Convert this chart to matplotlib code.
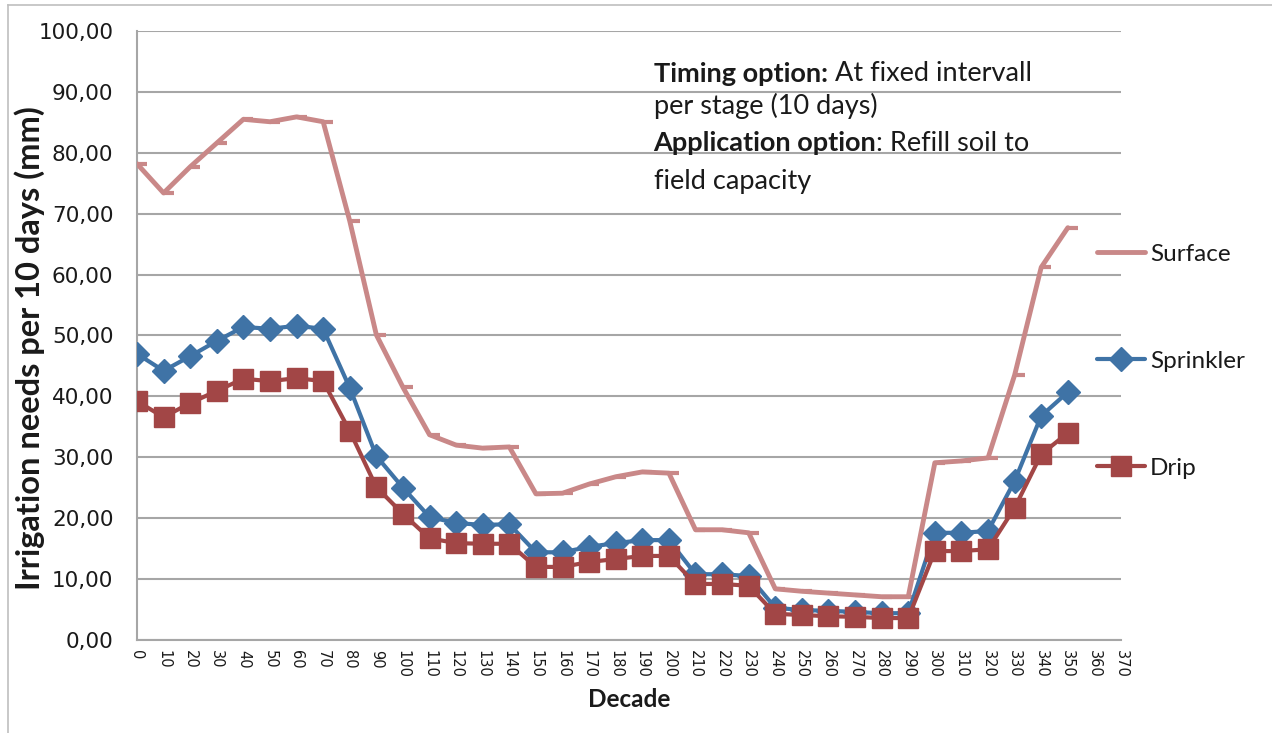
import numpy as np
import matplotlib
matplotlib.use("Agg")
import matplotlib.pyplot as plt
from matplotlib.lines import Line2D
from matplotlib.path import Path
from matplotlib.ticker import FuncFormatter, MultipleLocator


decades = list(range(0, 360, 10))

surface = [78.2, 73.4, 77.7, 81.6, 85.5, 85.1, 85.9, 85.1, 68.8, 50.1,
           41.5, 33.7, 32.0, 31.5, 31.7, 24.0, 24.1, 25.6, 26.8, 27.6,
           27.4, 18.1, 18.1, 17.6, 8.4, 8.0, 7.7, 7.4, 7.1, 7.1,
           29.1, 29.4, 29.9, 43.5, 61.2, 67.7]

sprinkler = [47.0, 44.2, 46.6, 49.1, 51.4, 51.1, 51.6, 51.1, 41.4, 30.2,
             25.0, 20.2, 19.2, 18.9, 19.0, 14.4, 14.4, 15.3, 15.9, 16.4,
             16.4, 10.8, 10.8, 10.5, 5.3, 4.9, 4.8, 4.6, 4.4, 4.4,
             17.6, 17.6, 17.9, 26.1, 36.8, 40.7]

drip = [39.2, 36.6, 38.9, 40.9, 42.9, 42.5, 43.0, 42.5, 34.3, 25.1,
        20.7, 16.7, 15.9, 15.8, 15.8, 12.0, 12.0, 12.8, 13.3, 13.8,
        13.8, 9.2, 9.2, 8.9, 4.3, 4.1, 3.9, 3.8, 3.6, 3.6,
        14.6, 14.6, 14.9, 21.7, 30.5, 34.0]

SURFACE_COLOR = "#C98888"
SPRINKLER_COLOR = "#3F73A6"
DRIP_COLOR = "#A24646"
GRID_COLOR = "#A6A6A6"
TEXT_COLOR = "#1a1a1a"
FONT = "Lato"  # closest to Calibri

# excel style "dash" marker: short tick to the right of the point
dash_marker = Path([(0, 0), (1, 0)], [Path.MOVETO, Path.LINETO])


def main():
    fig = plt.figure(figsize=(12.72, 7.33), dpi=100)
    ax = fig.add_axes([0.1077, 0.1269, 0.7736, 0.8308])

    line_kw = dict(solid_joinstyle="round", solid_capstyle="round")
    ax.plot(decades, surface, color=SURFACE_COLOR, lw=3.5, marker=dash_marker,
            markersize=14, markeredgewidth=3.0, label="Surface", zorder=3, **line_kw)
    ax.plot(decades, sprinkler, color=SPRINKLER_COLOR, lw=3.0, marker="D",
            markersize=12, label="Sprinkler", zorder=4, **line_kw)
    ax.plot(decades, drip, color=DRIP_COLOR, lw=3.0, marker="s",
            markersize=14, label="Drip", zorder=5, **line_kw)

    ax.set_xlim(0, 370)
    ax.set_ylim(0, 100)
    ax.xaxis.set_major_locator(MultipleLocator(10))
    ax.yaxis.set_major_locator(MultipleLocator(10))
    ax.yaxis.set_major_formatter(FuncFormatter(lambda v, p: f"{v:.2f}".replace(".", ",")))
    ax.grid(axis="y", color=GRID_COLOR, lw=1.5, zorder=0)
    ax.set_axisbelow(True)

    for side in ["top", "right"]:
        ax.spines[side].set_visible(False)
    for side in ["left", "bottom"]:
        ax.spines[side].set_color(GRID_COLOR)
        ax.spines[side].set_linewidth(1.5)

    # no tick marks, like the excel original
    ax.tick_params(axis="y", labelsize=15.5, length=0, pad=17,
                   labelcolor=TEXT_COLOR)
    ax.tick_params(axis="x", labelsize=10.5, length=0, pad=7,
                   labelrotation=-90, labelcolor=TEXT_COLOR)

    ax.set_xlabel("Decade", fontsize=17.5, fontweight="bold", family=FONT,
                  labelpad=7, color=TEXT_COLOR)
    ax.set_ylabel("Irrigation needs per 10 days (mm)", fontsize=23.5, fontweight="bold",
                  family=FONT, color=TEXT_COLOR)
    ax.yaxis.set_label_coords(-0.093, 0.48)

    # annotation with bold parts
    tk = dict(fontsize=19.5, family=FONT, color=TEXT_COLOR, va="center")
    t1 = ax.text(0.525, 0.930, "Timing option:", transform=ax.transAxes, fontweight="bold", **tk)
    ax.annotate(" At fixed intervall", xy=(1, 0.5), xycoords=t1, **tk)
    ax.text(0.525, 0.877, "per stage (10 days)", transform=ax.transAxes, **tk)
    t3 = ax.text(0.525, 0.816, "Application option", transform=ax.transAxes, fontweight="bold", **tk)
    ax.annotate(": Refill soil to", xy=(1, 0.5), xycoords=t3, **tk)
    ax.text(0.525, 0.753, "field capacity", transform=ax.transAxes, **tk)

    handles = [
        Line2D([], [], color=SURFACE_COLOR, lw=3.5, solid_capstyle="round"),
        Line2D([], [], color=SPRINKLER_COLOR, lw=3.0, marker="D", markersize=12,
               solid_capstyle="round"),
        Line2D([], [], color=DRIP_COLOR, lw=3.0, marker="s", markersize=14,
               solid_capstyle="round"),
    ]
    fig.legend(handles, ["Surface", "Sprinkler", "Drip"], loc="upper left",
               bbox_to_anchor=(0.845, 0.697), frameon=False,
               prop={"family": FONT, "size": 17.5}, labelspacing=3.53,
               handlelength=2.0, handletextpad=0.2, labelcolor=TEXT_COLOR)

    # outer chart frame
    fig.add_artist(Line2D([0.0063, 0.0063], [0.0, 0.993], color="#BFBFBF", lw=1.2))
    fig.add_artist(Line2D([0.0063, 1.0], [0.993, 0.993], color="#BFBFBF", lw=1.2))

    fig.savefig("out.png", dpi=100)


if __name__ == "__main__":
    main()
